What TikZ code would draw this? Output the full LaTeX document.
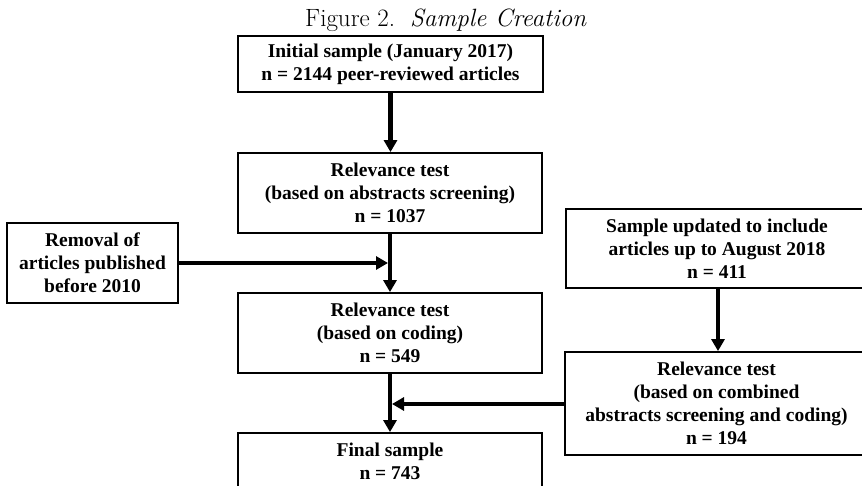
\documentclass[tikz,border=0pt]{standalone}
\usepackage{fontspec}
\setmainfont{Liberation Serif}
\newfontfamily\titlefont{Latin Modern Roman}
\usetikzlibrary{arrows.meta}
\begin{document}
\begin{tikzpicture}[x=1pt,y=-1pt,
  box/.style={draw, line width=1.8pt, rectangle, align=center, inner sep=0pt,
    font=\fontsize{19.5}{23}\selectfont\bfseries},
  arr/.style={line width=4.2pt, -{Triangle[length=12pt,width=13pt]}}]
\useasboundingbox (0,0) rectangle (862,486);
\node[font=\titlefont\fontsize{25}{28}\selectfont, anchor=base west, inner sep=0pt] (title) at (305,27) {Figure 2.\ \ \textit{Sample Creation}};
\node[box, minimum width=305pt, minimum height=56pt] (b1) at (390.5,64) {Initial sample (January 2017)\\n = 2144 peer-reviewed articles};
\node[box, minimum width=304pt, minimum height=80pt] (b2) at (390,193) {Relevance test\\(based on abstracts screening)\\n = 1037};
\node[box, minimum width=171pt, minimum height=80pt] (rm) at (92.5,263) {Removal of\\articles published\\before 2010};
\node[box, minimum width=304pt, minimum height=80pt] (b3) at (390,333) {Relevance test\\(based on coding)\\n = 549};
\node[box, minimum width=304pt, minimum height=56pt] (fin) at (390,461) {Final sample\\n = 743};
\node[box, minimum width=302pt, minimum height=79pt] (b4) at (717,248.5) {Sample updated to include\\articles up to August 2018\\n = 411};
\node[box, minimum width=303pt, minimum height=103pt] (b5) at (716.5,403.5) {Relevance test\\(based on combined\\abstracts screening and coding)\\n = 194};
\coordinate (j1) at (390,263);
\coordinate (j2) at (390,404);
\draw[arr] (b1.south) -- (b1.south |- b2.north);
\draw[arr] (b2.south) -- (b3.north);
\draw[arr, shorten >=2pt] (rm.east) -- (j1);
\draw[arr] (b3.south) -- (fin.north);
\draw[arr, shorten >=2pt] (b5.west |- j2) -- (j2);
\draw[arr] (b4.south -| 718,0) -- (b5.north -| 718,0);
\end{tikzpicture}
\end{document}
